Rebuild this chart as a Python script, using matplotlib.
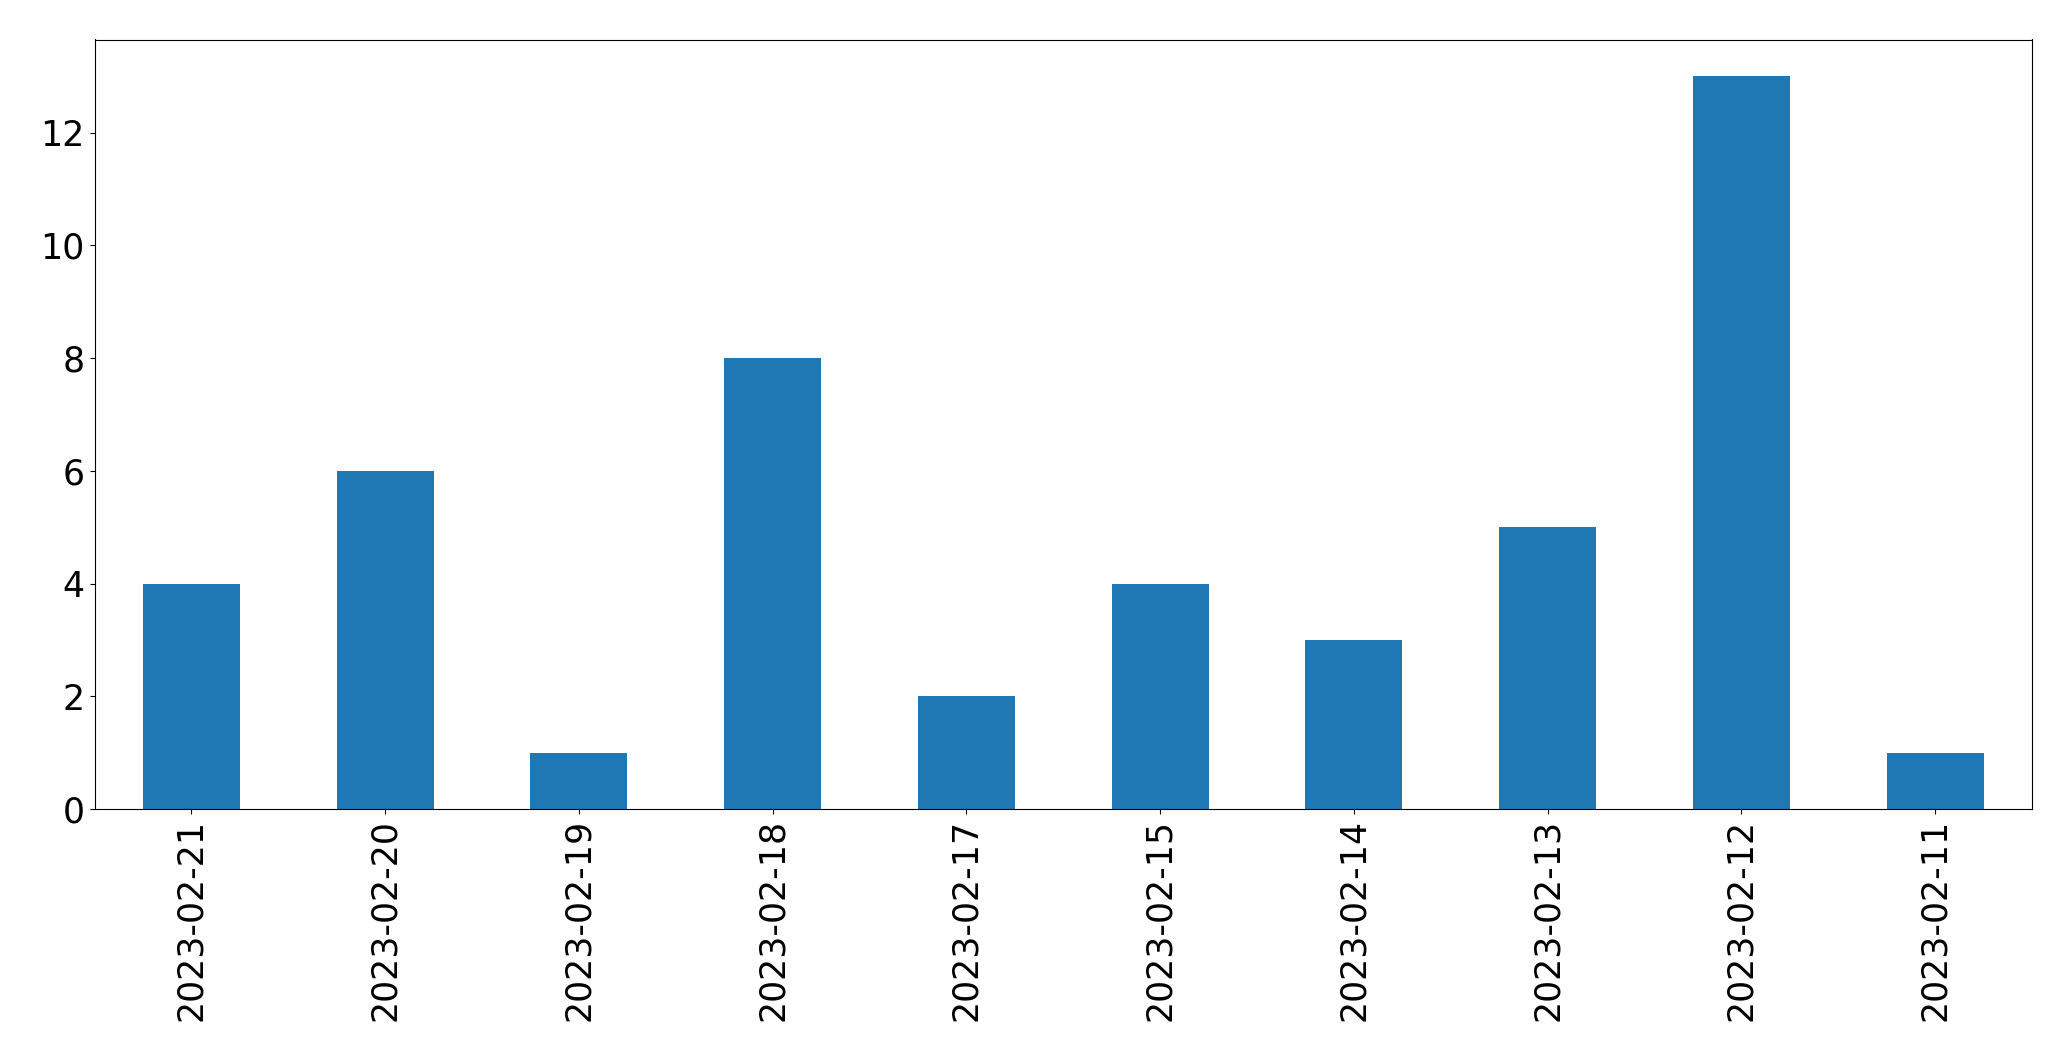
import matplotlib
matplotlib.use("Agg")
import matplotlib.pyplot as plt
import numpy as np

dates = ["2023-02-21", "2023-02-20", "2023-02-19", "2023-02-18", "2023-02-17",
         "2023-02-15", "2023-02-14", "2023-02-13", "2023-02-12", "2023-02-11"]
counts = [4, 6, 1, 8, 2, 4, 3, 5, 13, 1]

fig = plt.figure(figsize=(20.71, 10.61), dpi=100)
ax = fig.add_axes([94.5/2071, 1 - 809/1061, (2032 - 94.5)/2071, (809 - 39.5)/1061])
x = np.arange(len(dates))
ax.bar(x, counts, width=0.5, color="#1f77b4")
ax.set_xlim(-0.5, len(dates) - 0.5)
ax.set_ylim(0, max(counts) * 1.05)
ax.set_xticks(x)
ax.set_xticklabels(dates, rotation=90)
ax.set_yticks([0, 2, 4, 6, 8, 10, 12])
ax.tick_params(labelsize=25)
fig.savefig("out.png", dpi=100)
